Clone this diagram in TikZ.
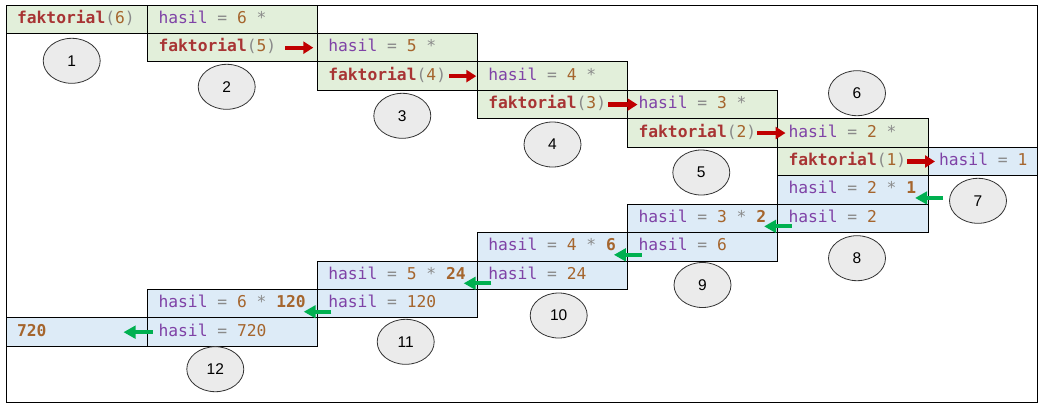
\documentclass[tikz,border=0pt]{standalone}
\usepackage{fontspec}
\setmonofont{DejaVu Sans Mono}
\newfontfamily\bubblefont{Liberation Sans}
\usetikzlibrary{positioning,arrows.meta,shapes.geometric}
\definecolor{cellgreen}{HTML}{E2EFDA}
\definecolor{cellblue}{HTML}{DDEBF7}
\definecolor{fnred}{HTML}{A83434}
\definecolor{numbrown}{HTML}{A5652D}
\definecolor{varpurple}{HTML}{7F42A6}
\definecolor{opgray}{HTML}{8A8A8A}
\definecolor{arrred}{HTML}{C00000}
\definecolor{arrgreen}{HTML}{00B050}
\definecolor{bubblegray}{HTML}{EBEBEB}
\definecolor{bubbleedge}{HTML}{333333}
\newcommand{\fakt}[1]{\textbf{\textcolor{fnred}{faktorial}}\textcolor{opgray}{(}\textcolor{numbrown}{#1}\textcolor{opgray}{)}}
\newcommand{\hasil}[1]{\textcolor{varpurple}{hasil}\textcolor{opgray}{\ =\ }\textcolor{numbrown}{#1}}
\newcommand{\kali}[1]{\textcolor{opgray}{\ *\ }\textbf{\textcolor{numbrown}{#1}}}
\tikzset{
  box/.style={draw, line width=1pt, inner sep=0pt, outer sep=0pt, minimum height=28.45pt},
  gbox/.style={box, fill=cellgreen},
  bbox/.style={box, fill=cellblue},
  col0/.style={minimum width=141.5pt},
  col1/.style={minimum width=169.8pt},
  col2/.style={minimum width=160pt},
  col3/.style={minimum width=150.2pt},
  col4/.style={minimum width=150pt},
  col5/.style={minimum width=150.5pt},
  col6/.style={minimum width=109pt},
  code/.style={inner sep=0pt, outer sep=0pt, anchor=west, text height=12pt, text depth=4pt,
    font=\ttfamily\fontsize{16.3pt}{19pt}\selectfont},
  bubble/.style={ellipse, draw=bubbleedge, fill=bubblegray, line width=0.8pt, inner sep=0pt,
    minimum width=57pt, minimum height=45pt, font=\bubblefont\fontsize{15.5pt}{18pt}\selectfont},
  redarr/.style={draw=arrred, line width=4.3pt, -{Triangle[length=10pt,width=12pt]}},
  grnarr/.style={draw=arrgreen, line width=4pt, -{Triangle[length=12pt,width=12.5pt]}}
}

\begin{document}
\begin{tikzpicture}[x=1pt,y=-1pt]
\useasboundingbox (0,0) rectangle (1049,408);
\draw[line width=1pt] (6,5) rectangle (1037,402);

% calls going down
\node[gbox, col0, anchor=north west] (f6) at (6,5) {};
\node[gbox, col1, right=0pt of f6] (h6) {};
\node[gbox, col1, below=0pt of h6] (f5) {};
\node[gbox, col2, right=0pt of f5] (h5) {};
\node[gbox, col2, below=0pt of h5] (f4) {};
\node[gbox, col3, right=0pt of f4] (h4) {};
\node[gbox, col3, below=0pt of h4] (f3) {};
\node[gbox, col4, right=0pt of f3] (h3) {};
\node[gbox, col4, below=0pt of h3] (f2) {};
\node[gbox, col5, right=0pt of f2] (h2) {};
\node[gbox, col5, below=0pt of h2] (f1) {};
\node[bbox, col6, right=0pt of f1] (h1) {};

% results going back
\node[bbox, col5, below=0pt of f1] (p21) {};
\node[bbox, col5, below=0pt of p21] (v2) {};
\node[bbox, col4, left=0pt of v2] (p32) {};
\node[bbox, col4, below=0pt of p32] (v6) {};
\node[bbox, col3, left=0pt of v6] (p46) {};
\node[bbox, col3, below=0pt of p46] (v24) {};
\node[bbox, col2, left=0pt of v24] (p524) {};
\node[bbox, col2, below=0pt of p524] (v120) {};
\node[bbox, col1, left=0pt of v120] (p6120) {};
\node[bbox, col1, below=0pt of p6120] (v720) {};
\node[bbox, col0, left=0pt of v720] (r720) {};

% texts
\node[code, right=11pt of f6.west] (f6t) {\fakt{6}};
\node[code, right=11pt of h6.west] (h6t) {\hasil{6}\kali{}};
\node[code, right=11pt of f5.west] (f5t) {\fakt{5}};
\node[code, right=11pt of h5.west] (h5t) {\hasil{5}\kali{}};
\node[code, right=11pt of f4.west] (f4t) {\fakt{4}};
\node[code, right=11pt of h4.west] (h4t) {\hasil{4}\kali{}};
\node[code, right=11pt of f3.west] (f3t) {\fakt{3}};
\node[code, right=11pt of h3.west] (h3t) {\hasil{3}\kali{}};
\node[code, right=11pt of f2.west] (f2t) {\fakt{2}};
\node[code, right=11pt of h2.west] (h2t) {\hasil{2}\kali{}};
\node[code, right=11pt of f1.west] (f1t) {\fakt{1}};
\node[code, right=11pt of h1.west] (h1t) {\hasil{1}};
\node[code, right=11pt of p21.west] (p21t) {\hasil{2}\kali{1}};
\node[code, right=11pt of v2.west] (v2t) {\hasil{2}};
\node[code, right=11pt of p32.west] (p32t) {\hasil{3}\kali{2}};
\node[code, right=11pt of v6.west] (v6t) {\hasil{6}};
\node[code, right=11pt of p46.west] (p46t) {\hasil{4}\kali{6}};
\node[code, right=11pt of v24.west] (v24t) {\hasil{24}};
\node[code, right=11pt of p524.west] (p524t) {\hasil{5}\kali{24}};
\node[code, right=11pt of v120.west] (v120t) {\hasil{120}};
\node[code, right=11pt of p6120.west] (p6120t) {\hasil{6}\kali{120}};
\node[code, right=11pt of v720.west] (v720t) {\hasil{720}};
\node[code, right=11pt of r720.west] (r720t) {\textbf{\textcolor{numbrown}{720}}};

% step numbers
\foreach \n/\x/\y in {1/71.7/60.8, 2/226.7/86.8, 3/402.3/115.8, 4/552.5/144.5,
    5/701.3/172.5, 6/857/93.2, 7/978/200.8, 8/857/258.2, 9/702.5/285,
    10/558.7/315.5, 11/405.7/341.8, 12/215.3/369.2}
  \node[bubble] (s\n) at (\x,\y) {\n};

% calls
\draw[redarr] ([xshift=9pt]f5t.east) -- ([xshift=-4pt]h5.west);
\draw[redarr] ([xshift=3pt]f4t.east) -- ([xshift=-1pt]h4.west);
\draw[redarr] ([xshift=2pt]f3t.east) -- ([xshift=-1pt]h3t.west);
\draw[redarr] ([xshift=1pt]f2t.east) -- ([xshift=-3pt]h2t.west);
\draw[redarr] ([xshift=1pt]f1t.east) -- ([xshift=-4pt]h1t.west);

% returns
\draw[grnarr] ([xshift=15pt,yshift=-8pt]p21.east) -- ([xshift=-1pt,yshift=-8pt]p21t.east);
\draw[grnarr] ([xshift=3pt,yshift=-8pt]v2t.west) -- ([xshift=-2pt,yshift=-8pt]p32t.east);
\draw[grnarr] ([xshift=3pt,yshift=-8pt]v6t.west) -- ([xshift=-2pt,yshift=-8pt]p46t.east);
\draw[grnarr] ([xshift=3pt,yshift=-8pt]v24t.west) -- ([xshift=-2pt,yshift=-8pt]p524t.east);
\draw[grnarr] ([xshift=3pt,yshift=-8pt]v120t.west) -- ([xshift=-2pt,yshift=-8pt]p6120t.east);
\draw[grnarr] ([xshift=-6pt]v720t.west) -- ([xshift=-35pt]v720t.west);
\end{tikzpicture}
\end{document}
